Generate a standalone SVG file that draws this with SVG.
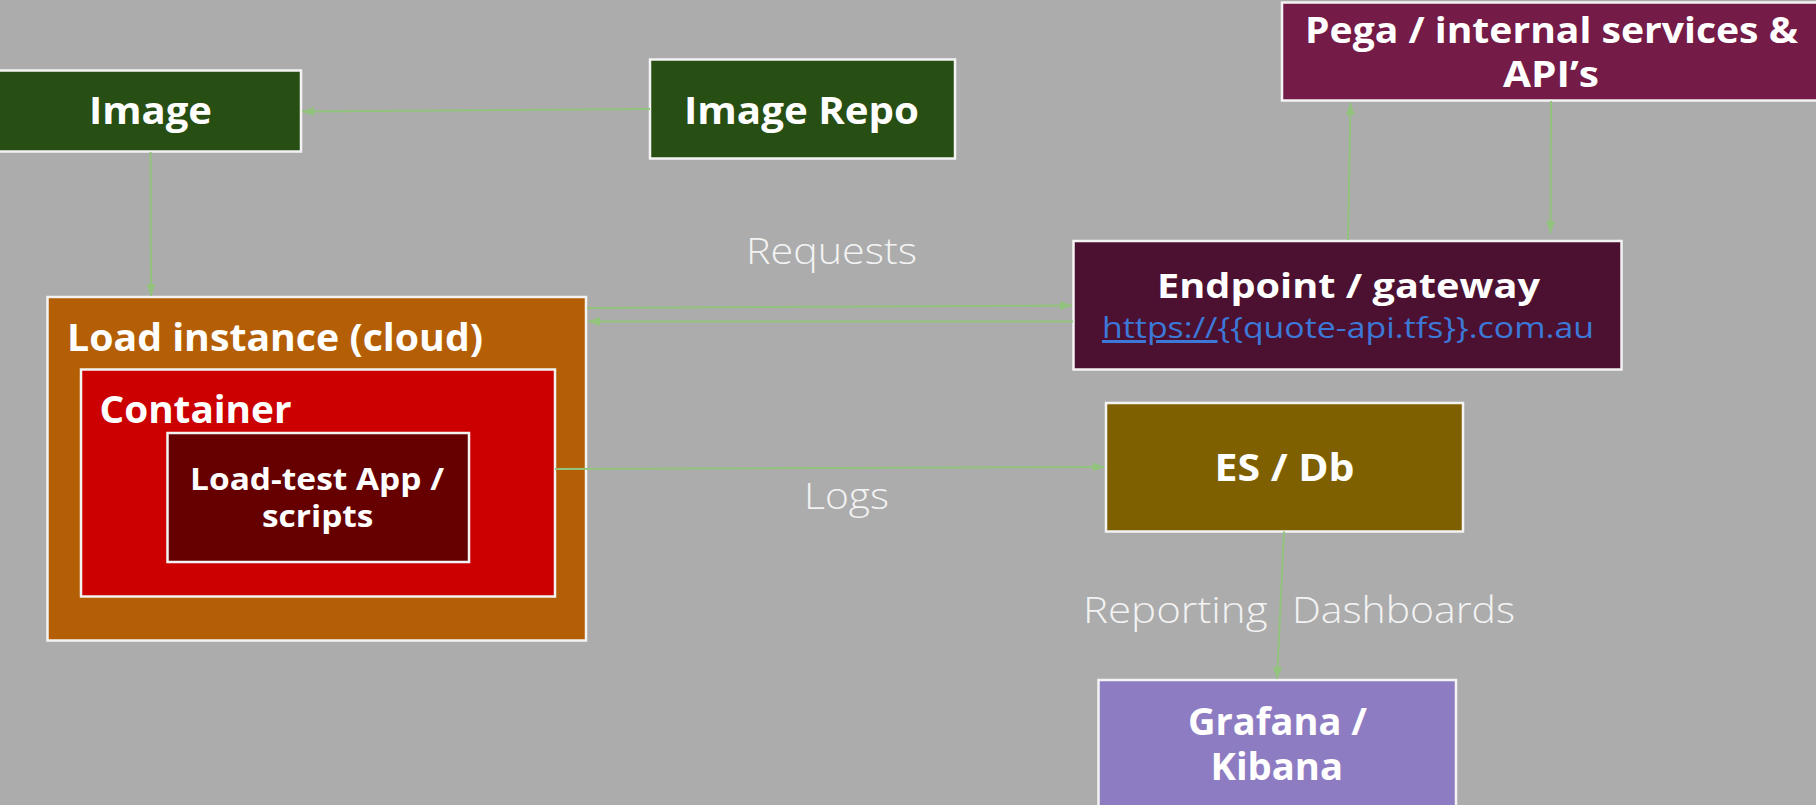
<svg xmlns="http://www.w3.org/2000/svg" width="1816" height="805" viewBox="0 0 1816 805">
<defs>
<style>
.box{stroke:#f3f3f3;stroke-width:2.5}
.t{font-family:"Open Sans","Liberation Sans",sans-serif;font-weight:700;fill:#ffffff}
.lbl{font-family:"Open Sans","Liberation Sans",sans-serif;font-weight:300;fill:#f3f3f3;font-size:36px}
.c{stroke:#93c47d;stroke-width:2;fill:none}
</style>
<marker id="ah" viewBox="0 0 12 9" refX="12" refY="4.5" markerWidth="12" markerHeight="9" orient="auto" markerUnits="userSpaceOnUse">
<path d="M0,0 L12,4.5 L0,9 z" fill="#93c47d"/>
</marker>
</defs>
<rect x="0" y="0" width="1816" height="805" fill="#acacac"/>

<g id="image">
<rect class="box" x="-5" y="70.5" width="306" height="81" fill="#274e13"/>
<text class="t" x="89" y="124" font-size="37" textLength="123" lengthAdjust="spacingAndGlyphs">Image</text>
</g>

<g id="image-repo">
<rect class="box" x="650" y="59.5" width="305" height="99" fill="#274e13"/>
<text class="t" x="684" y="124" font-size="37" textLength="235" lengthAdjust="spacingAndGlyphs">Image Repo</text>
</g>

<g id="pega">
<rect class="box" x="1282" y="2.5" width="540" height="98" fill="#741b47"/>
<text class="t" x="1305" y="43" font-size="36" textLength="493" lengthAdjust="spacingAndGlyphs">Pega / internal services &amp;</text>
<text class="t" x="1503" y="87" font-size="36" textLength="96" lengthAdjust="spacingAndGlyphs">API’s</text>
</g>

<g id="endpoint">
<rect class="box" x="1073.5" y="241" width="548" height="128.5" fill="#4c1130"/>
<text class="t" x="1157" y="298" font-size="34" textLength="383" lengthAdjust="spacingAndGlyphs">Endpoint / gateway</text>
<text x="1102" y="338" font-size="30" textLength="492" lengthAdjust="spacingAndGlyphs" font-family="'Open Sans','Liberation Sans',sans-serif" fill="#3c78d8"><tspan text-decoration="underline">https://</tspan>{{quote-api.tfs}}.com.au</text>
</g>

<g id="load-instance">
<rect class="box" x="47.5" y="297" width="538.5" height="343.5" fill="#b45f06"/>
<text class="t" x="67" y="351" font-size="37" textLength="416" lengthAdjust="spacingAndGlyphs">Load instance (cloud)</text>
</g>

<g id="container">
<rect class="box" x="81" y="369.5" width="474" height="227" fill="#cc0000"/>
<text class="t" x="99.5" y="423" font-size="37" textLength="192" lengthAdjust="spacingAndGlyphs">Container</text>
</g>

<g id="load-test-app">
<rect class="box" x="167.5" y="433" width="301.5" height="129" fill="#660000"/>
<text class="t" x="190" y="490" font-size="30" textLength="254" lengthAdjust="spacingAndGlyphs">Load-test App /</text>
<text class="t" x="262" y="527" font-size="30" textLength="111.5" lengthAdjust="spacingAndGlyphs">scripts</text>
</g>

<g id="es-db">
<rect class="box" x="1106" y="403" width="357" height="128.5" fill="#7f6000"/>
<text class="t" x="1214.5" y="481" font-size="37" textLength="140" lengthAdjust="spacingAndGlyphs">ES / Db</text>
</g>

<g id="grafana">
<rect class="box" x="1098.5" y="680" width="357.5" height="140" fill="#8e7cc3"/>
<text class="t" x="1188" y="735" font-size="37" textLength="179" lengthAdjust="spacingAndGlyphs">Grafana /</text>
<text class="t" x="1210.5" y="780" font-size="37" textLength="132.5" lengthAdjust="spacingAndGlyphs">Kibana</text>
</g>

<g id="connectors">
<path class="c" d="M650,109 L302,111.5" marker-end="url(#ah)"/>
<path class="c" d="M150.5,152 L151,296" marker-end="url(#ah)"/>
<path class="c" d="M587,308 L1072,305.5" marker-end="url(#ah)"/>
<path class="c" d="M1073,321.5 L588,321.5" marker-end="url(#ah)"/>
<path class="c" d="M555,469 L1104.5,467" marker-end="url(#ah)"/>
<path class="c" d="M1348,240 L1350.5,103" marker-end="url(#ah)"/>
<path class="c" d="M1551,101 L1550.5,233" marker-end="url(#ah)"/>
<path class="c" d="M1284,531.5 L1277,679" marker-end="url(#ah)"/>
</g>

<g id="labels">
<text class="lbl" x="746" y="264" textLength="171" lengthAdjust="spacingAndGlyphs">Requests</text>
<text class="lbl" x="804" y="509" textLength="85" lengthAdjust="spacingAndGlyphs">Logs</text>
<text class="lbl" y="623"><tspan x="1083" textLength="184.5" lengthAdjust="spacingAndGlyphs">Reporting</tspan><tspan x="1292" textLength="223" lengthAdjust="spacingAndGlyphs">Dashboards</tspan></text>
</g>
</svg>
